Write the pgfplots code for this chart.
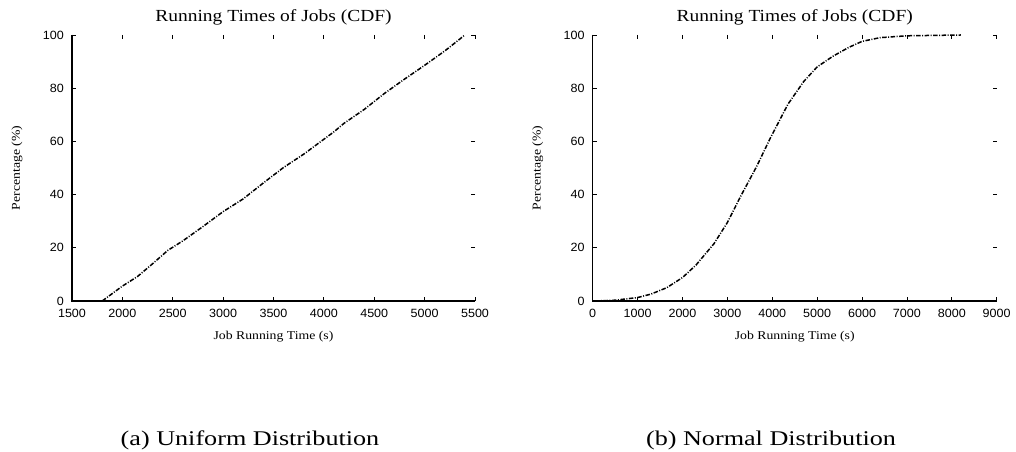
\documentclass[border=0pt]{standalone}
\usepackage{fontspec}
\setmainfont{Liberation Serif}[FakeStretch=1.15]
\newfontfamily\ticksans{Liberation Sans}[FakeStretch=1.05]
\newfontfamily\capserif{Liberation Serif}[FakeStretch=1.25]
\usepackage{pgfplots}
\pgfplotsset{compat=1.18}

% Shared look of both CDF panels: gnuplot-like frame with only the
% left and bottom axis lines drawn, inward ticks on all four sides.
\pgfplotsset{
  cdfaxis/.style={
    scale only axis,
    height=266bp,
    ymin=0, ymax=100,
    ytick={0,20,40,60,80,100},
    tick align=inside,
    major tick length=4bp,
    tick style={line width=0.8bp, black},
    axis line style={draw=none},
    clip=false,
    /pgf/number format/assume math mode=true,
    /pgf/number format/1000 sep={},
    every tick label/.append style={font=\fontsize{12}{14}\ticksans},
    xticklabel style={yshift=-4.5bp},
    yticklabel style={xshift=-4.6bp},
    title={Running Times of Jobs (CDF)},
    title style={font=\fontsize{17}{19}\selectfont,
      at={(axis description cs:0.5,1)}, anchor=base, yshift=8bp},
    xlabel={Job Running Time (s)},
    xlabel style={font=\fontsize{12}{14}\selectfont,
      at={(axis description cs:0.5,0)}, anchor=base, yshift=-39bp},
    ylabel={Percentage (\%)},
    ylabel style={font=\fontsize{12}{14}\selectfont,
      at={(axis description cs:0,0.5)}, anchor=center, yshift=55bp},
    after end axis/.code={
      \draw[line width=1.4bp, black]
        (rel axis cs:0,1) -- (rel axis cs:0,0) -- (rel axis cs:1,0);
    },
  },
  cdfline/.style={black, line width=1.5bp, line join=round,
    dash pattern=on 4.5bp off 1.5bp on 1bp off 1.5bp},
}

\begin{document}
\begin{tikzpicture}
\path[use as bounding box] (0,0) rectangle (1016bp,452bp);

% (a) uniformly distributed running times
\begin{axis}[cdfaxis,
  at={(72bp,151bp)}, anchor=south west,
  width=403bp,
  xmin=1500, xmax=5500,
  xtick={1500,2000,...,5500},
]
\addplot[cdfline] coordinates {
  (1800,0) (2000,5.6) (2150,9.2) (2300,14) (2450,19) (2600,22.6)
  (2800,28) (3000,33.6) (3200,38.4) (3400,44.4) (3600,50.2)
  (3800,55.2) (4000,60.8) (4100,63.6) (4200,66.8) (4400,72)
  (4600,78) (4800,83.4) (5000,88.6) (5200,94) (5400,100)
};
\end{axis}

% (b) normally distributed running times
\begin{axis}[cdfaxis,
  at={(592.7bp,151bp)}, anchor=south west,
  width=404bp,
  xmin=0, xmax=9000,
  xtick={0,1000,...,9000},
]
\addplot[cdfline] coordinates {
  (50,0) (500,0.3) (1000,1.3) (1300,2.6) (1650,5) (2000,8.8)
  (2300,13.5) (2700,21.5) (3000,29.5) (3300,39.5) (3650,50.5)
  (3950,61) (4350,74) (4700,82.5) (5000,88) (5350,92) (5700,95.3)
  (6000,97.6) (6400,99) (7000,99.7) (8200,100)
};
\end{axis}

\node[font=\fontsize{21}{24}\capserif, anchor=base] at (250bp,7bp)
  {(a) Uniform Distribution};
\node[font=\fontsize{21}{24}\capserif, anchor=base] at (771bp,7bp)
  {(b) Normal Distribution};
\end{tikzpicture}
\end{document}
